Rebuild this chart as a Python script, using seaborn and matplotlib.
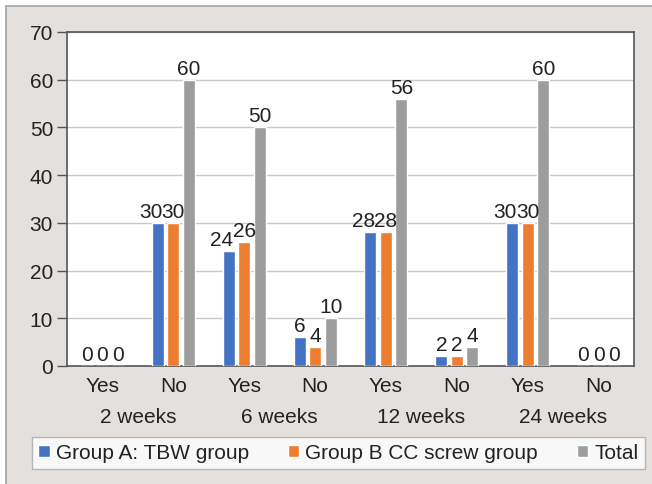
import matplotlib
matplotlib.use("Agg")
import matplotlib.pyplot as plt
from matplotlib.patches import Rectangle
from matplotlib.transforms import blended_transform_factory
import seaborn as sns
import pandas as pd

# Outcome categories along the x axis (answer + follow-up period)
answers = ["Yes", "No", "Yes", "No", "Yes", "No", "Yes", "No"]
periods = ["2 weeks", "6 weeks", "12 weeks", "24 weeks"]

series_names = ["Group A: TBW group", "Group B CC screw group", "Total"]
group_a = [0, 30, 24, 6, 28, 2, 30, 0]
group_b = [0, 30, 26, 4, 28, 2, 30, 0]
total = [0, 60, 50, 10, 56, 4, 60, 0]

colors = ["#4472C4", "#ED7D31", "#9C9E9E"]

# Unique key per category so repeated Yes/No stay separate
keys = [f"{periods[i // 2]}|{a}" for i, a in enumerate(answers)]
rows = []
for name, vals in zip(series_names, [group_a, group_b, total]):
    for k, v in zip(keys, vals):
        rows.append({"cat": k, "group": name, "value": v})
df = pd.DataFrame(rows)

sns.set_style("white")
plt.rcParams["font.family"] = ["Liberation Sans", "DejaVu Sans"]

W, H = 652, 485
fig = plt.figure(figsize=(W / 100, H / 100), dpi=100)
fig.patch.set_facecolor("white")

# Gray panel behind the chart
fig.patches.append(Rectangle((6 / W, -0.01), 1.0, (H - 7) / H + 0.01,
                             transform=fig.transFigure, facecolor="#E4E0DD",
                             edgecolor="#A3A3A3", linewidth=1.2, zorder=-10))

ax = fig.add_axes([67 / W, (H - 367) / H, 567 / W, 334 / H])
ax.set_facecolor("white")

sns.barplot(data=df, x="cat", y="value", hue="group", order=keys,
            hue_order=series_names, palette=colors, width=0.657, gap=0.23,
            saturation=1, ax=ax, legend=True, zorder=3)

text_color = "#222222"
label_sets = []
for cont in ax.containers:
    label_sets.append(ax.bar_label(cont, fmt="%d", fontsize=15, padding=1.5,
                                   color=text_color))

# Nudge Group A labels left where two-digit A and B labels sit side by side
for ann, a, b in zip(label_sets[0], group_a, group_b):
    if a >= 10 and b >= 10:
        ann.xyann = (-5, ann.xyann[1])

ax.set_ylim(0, 70)
ax.set_xlim(-0.5, len(keys) - 0.5)
ax.set_yticks(range(0, 71, 10))
ax.yaxis.grid(True, color="#C8C8C8", linewidth=1.0, zorder=0)
ax.set_axisbelow(True)
ax.set_xticks(range(len(keys)))
ax.set_xticklabels(answers)
ax.tick_params(axis="x", length=0, pad=7, labelsize=15, labelcolor=text_color)
ax.tick_params(axis="y", length=7, width=1, color="#555555", pad=3,
               labelsize=15, labelcolor=text_color, left=True)
ax.set_xlabel("")
ax.set_ylabel("")
for s in ax.spines.values():
    s.set_color("#555555")
    s.set_linewidth(1.2)

# Period labels under each Yes/No pair
tr = blended_transform_factory(ax.transData, ax.transAxes)
for i, p in enumerate(periods):
    ax.text(2 * i + 0.5, -51 / 334, p, transform=tr, ha="center", va="center",
            fontsize=15, color=text_color)

handles, labels = ax.get_legend_handles_labels()
ax.legend_.remove()
leg = fig.legend(handles, labels, ncol=3,
                 bbox_to_anchor=(32 / W, (H - 438) / H),
                 loc="upper left", fontsize=15, frameon=True, fancybox=False,
                 handlelength=0.55, handleheight=0.55, handletextpad=0.3,
                 columnspacing=1.85, borderpad=0.3, borderaxespad=0,
                 labelcolor=text_color)
leg.get_frame().set_edgecolor("#A8A8A8")
leg.get_frame().set_linewidth(1.0)

fig.savefig("out.png", dpi=100)
